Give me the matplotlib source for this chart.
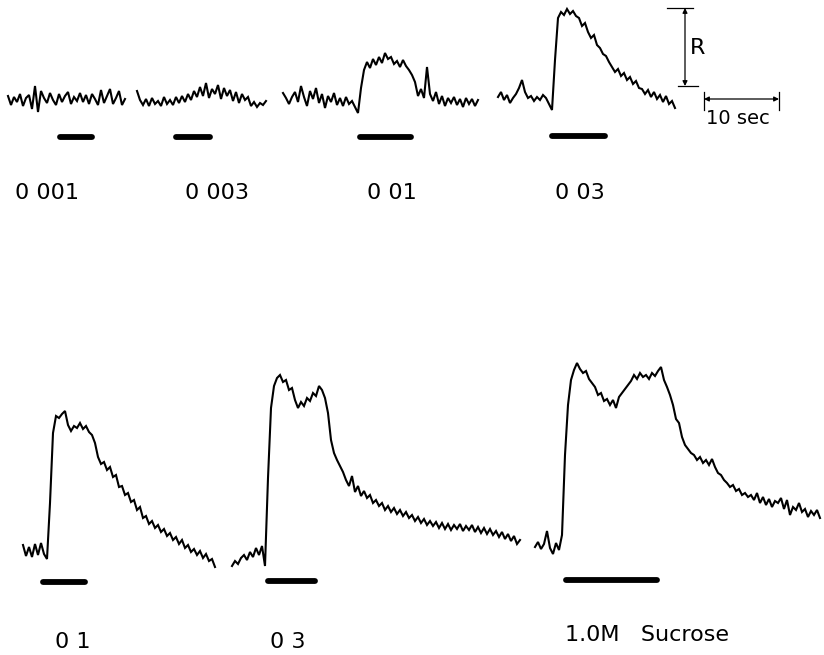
import matplotlib
matplotlib.use("Agg")
import matplotlib.pyplot as plt
import numpy as np


# ============================================================
# 1. Data: chorda tympani style recordings, one trace per sucrose
#    concentration. Values are pen deflection above the resting level,
#    sampled every 0.4 s (the R bar spans 78 units).
# ============================================================
DT = 0.4          # s between samples
R_UNITS = 78      # height of the "R" scale bar
TIME_BAR = 10     # s, length of the time scale bar

resp_0001 = [4, -5, 3, -2, 6, -6, 2, 5, -9, 14, -12, 9, 2, -3, 7, 0, -5, 6, -2, 4,
             8, -4, 3, -1, 7, -2, 5, -4, 6, 1, -5, 10, -3, 4, 11, -4, 2, 9, -5, 1]

resp_0003 = [9, 0, -5, 1, -6, 2, -4, -1, -6, 3, -4, 0, -5, 3, -3, 4, -2, 6, 0, 9, 3, 13,
             4, 17, 2, 11, 6, 15, 1, 12, 4, 10, -1, 8, -3, 6, 0, 3, -6, -2, -7, -3, -5, -1]

resp_001 = [7, 2, -4, 3, 8, -2, 14, 3, -6, 9, 1, 12, -3, 6, -8, 4, -2, 7, -5, 2, -6, 3, -4, -1, -7,
            -13, 12, 30, 38, 32, 41, 35, 43, 37, 47, 41, 43, 36, 39, 33, 40, 34, 30, 25, 18,
            4, 11, 2, 33, 6, -1, 8, -4, 4, -6, 2, -3, 3, -5, 1, -7, 2, -4, 1, -6, 0]

resp_003 = [3, 8, 0, 5, -3, 2, 6, 12, 20, 8, 2, 4, -1, 3, 0, 5, 2, -4,
            -10, 40, 82, 88, 85, 91, 86, 89, 84, 82, 74, 77, 68, 62, 65, 55, 52, 46, 44, 38,
            33, 28, 31, 24, 27, 20, 23, 16, 19, 12, 11, 6, 10, 3, 8, 1, 5, -2, 4, -4, -1, -8]

resp_01 = [8, -3, 6, -4, 9, -2, 10, -1, -6,
           50, 120, 137, 135, 139, 142, 128, 122, 127, 125, 130, 124, 127, 121, 118, 110,
           96, 89, 91, 83, 86, 76, 78, 66, 67, 58, 60, 51, 53, 43, 46, 35, 37, 29, 32, 25,
           28, 21, 24, 17, 20, 13, 16, 9, 13, 5, 8, 1, 4, -2, 2, -5, -1, -8, -6, -14]

resp_03 = [-8, -3, -6, 0, 3, -2, 6, 1, 10, 3, 12, -8,
           80, 150, 172, 180, 183, 176, 178, 168, 170, 158, 150, 156, 152, 160, 157, 165,
           162, 172, 168, 160, 145,
           118, 105, 98, 92, 86, 78, 72, 82, 66, 72, 62, 67, 60, 63, 55, 58, 52, 55, 48, 52,
           46, 50, 44, 48, 42, 46, 40, 43, 37, 41, 35, 39, 33, 37, 32, 36, 30, 35, 29, 34,
           28, 33, 29, 34, 27, 32, 28, 33, 26, 31, 25, 30, 24, 29, 23, 27, 21, 26, 19, 24,
           17, 22, 14, 18]

resp_10 = [-2, 3, -4, 1, 14, -3, -9, 2, -5,
           10, 90, 140, 165, 175, 182, 176, 172, 174, 166, 162, 158, 150, 152, 144, 146,
           140, 145, 137, 148, 152, 156, 160, 164, 170, 166, 172, 168, 170, 166, 172, 169,
           174, 178, 165, 158, 150, 140, 126, 122, 108, 100, 96, 92, 90, 85, 88, 82, 85,
           80, 86, 78, 72, 70, 65, 62, 58, 60, 54, 56, 50, 52, 48, 50, 45, 52, 42, 48, 40,
           46, 38, 44, 42, 47, 36, 45, 30, 38, 35, 42, 33, 36, 28, 34, 30, 35, 27]

traces = [resp_0001, resp_0003, resp_001, resp_003, resp_01, resp_03, resp_10]
labels = ["0 001", "0 003", "0 01", "0 03", "0 1", "0 3", "1.0M   Sucrose"]
stim_on = [6.5, 4.8, 9.9, 6.8, 2.3, 4.4, 3.7]      # s after trace start
stim_dur = [5.1, 5.3, 7.5, 7.9, 6.4, 7.1, 12.9]    # s


# ============================================================
# 2. Layout (pixels of the 824 x 655 page)
# ============================================================
W, H = 824, 655
PX_PER_S = 7.5

trace_x0 = [8, 137, 283, 498, 23, 232, 535]
trace_base = [100, 100, 100, 100, 553, 558, 545]
bar_y = [137, 137, 137, 136, 582, 581, 580]
label_xy = [(15, 193), (185, 193), (367, 193), (555, 193),
            (55, 642), (270, 642), (565, 635)]


def sx(px):
    return px / PX_PER_S


def sy(py):
    return -py


# ============================================================
# 3. Draw
# ============================================================
fig = plt.figure(figsize=(W / 100, H / 100), dpi=100)
ax = fig.add_axes([0, 0, 1, 1])
ax.set_xlim(0, sx(W))
ax.set_ylim(sy(H), 0)
ax.axis("off")

bar_lw = 4.2
cap = bar_lw * 100 / 72 / 2 / PX_PER_S

for i, resp in enumerate(traces):
    t0 = sx(trace_x0[i])
    base = sy(trace_base[i])
    t = t0 + np.arange(len(resp)) * DT
    ax.plot(t, base + np.array(resp), color="black", lw=1.5, solid_joinstyle="miter")

    on = t0 + stim_on[i]
    ax.plot([on + cap, on + stim_dur[i] - cap], [sy(bar_y[i])] * 2,
            color="black", lw=bar_lw, solid_capstyle="round")

    lx, ly = label_xy[i]
    fig.text(lx / W, 1 - ly / H, labels[i], fontsize=16, ha="left", va="center",
             color="black")

# R scale bar
rx = sx(685)
r_top = sy(8)
ax.plot([sx(667), sx(693)], [r_top, r_top], color="black", lw=0.9)
ax.plot([sx(678), sx(698)], [r_top - R_UNITS] * 2, color="black", lw=0.9)
ax.annotate("", xy=(rx, r_top), xytext=(rx, r_top - R_UNITS),
            arrowprops=dict(arrowstyle="<|-|>", color="black", lw=0.9,
                            mutation_scale=7, shrinkA=0, shrinkB=0))
fig.text(690 / W, 1 - 48 / H, "R", fontsize=16, ha="left", va="center")

# time scale bar
tx0 = sx(704)
ty = sy(99)
ax.annotate("", xy=(tx0 + TIME_BAR, ty), xytext=(tx0, ty),
            arrowprops=dict(arrowstyle="<|-|>", color="black", lw=0.9,
                            mutation_scale=7, shrinkA=0, shrinkB=0))
for x in (tx0, tx0 + TIME_BAR):
    ax.plot([x, x], [sy(92), sy(110)], color="black", lw=0.9)
fig.text(706 / W, 1 - 119 / H, "10 sec", fontsize=14, ha="left", va="center")

fig.savefig("out.png", dpi=100)
